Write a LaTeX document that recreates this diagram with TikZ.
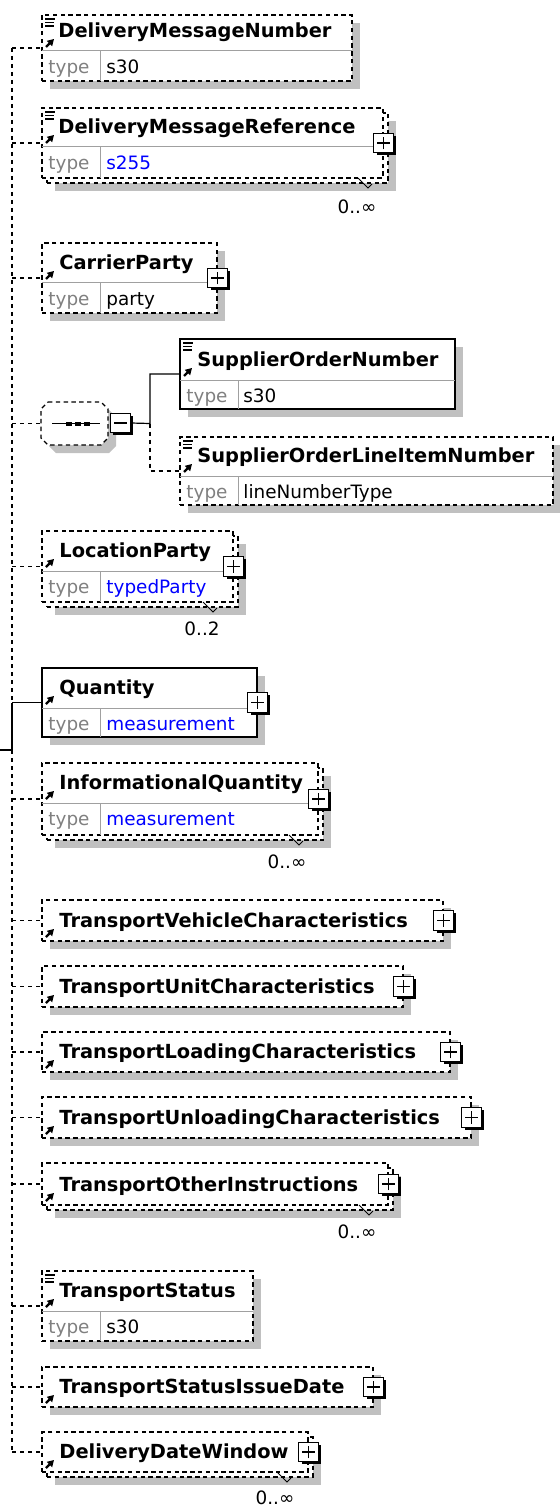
\documentclass[tikz,border=0pt]{standalone}
\usepackage{fontspec}
\setmainfont{DejaVu Sans}
\usepackage{xcolor}
\usepackage{tikz}
\usetikzlibrary{arrows.meta, positioning, fit, shadows}
\definecolor{xsgrey}{HTML}{C0C0C0}
\definecolor{xslabel}{HTML}{808080}
\definecolor{xsrule}{HTML}{A0A0A0}
\definecolor{xsblue}{HTML}{0000FF}
\newcommand{\simpleicon}[2]{\draw[line width=0.55pt] (#1+3,#2+4) -- ++(10,0) (#1+3,#2+7.5) -- ++(9,0) (#1+3,#2+11) -- ++(9,0);}
\tikzset{
  ebox/.style={draw=black, fill=white, line width=0.7pt, inner sep=0pt},
  eshadow/.style={general shadow={fill=xsgrey, shadow xshift=4pt, shadow yshift=-4pt}},
  reqbox/.style={ebox, eshadow},
  optbox/.style={ebox, eshadow, dash pattern=on 2.2pt off 1.7pt},
  optfront/.style={ebox, dash pattern=on 2.2pt off 1.7pt},
  reqline/.style={draw=black, line width=0.6pt},
  optline/.style={reqline, dash pattern=on 2.2pt off 1.8pt},
  rowrule/.style={draw=xsrule, line width=0.5pt},
  ename/.style={font=\fontsize{9.7pt}{11pt}\selectfont\bfseries, anchor=base west, inner sep=0pt},
  tkey/.style={font=\fontsize{9.2pt}{11pt}\selectfont, text=xslabel, anchor=base west, inner sep=0pt},
  tval/.style={font=\fontsize{9.2pt}{11pt}\selectfont, anchor=base west, inner sep=0pt},
  tref/.style={tval, text=xsblue},
  occ/.style={font=\fontsize{9.2pt}{11pt}\selectfont, inner sep=0pt},
  occtick/.style={line width=0.5pt},
  refarrow/.style={line width=1.1pt, -{Triangle[length=3.2pt, width=3.6pt]}},
  togglebox/.style={draw=black, fill=white, line width=0.55pt, minimum size=9.8pt, inner sep=0pt,
    general shadow={fill=black, shadow xshift=1.3pt, shadow yshift=-1.3pt}},
  expand/.style={togglebox, path picture={\draw[line width=0.55pt]
    ([xshift=-3.2pt]path picture bounding box.center) -- ([xshift=3.2pt]path picture bounding box.center)
    ([yshift=-3.2pt]path picture bounding box.center) -- ([yshift=3.2pt]path picture bounding box.center);}},
  collapse/.style={togglebox, path picture={\draw[line width=0.55pt]
    ([xshift=-3.2pt]path picture bounding box.center) -- ([xshift=3.2pt]path picture bounding box.center);}},
  seqbox/.style={inner sep=0pt, minimum width=33.5pt, minimum height=21.5pt}
}
\begin{document}
\begin{tikzpicture}[x=0.5pt, y=-0.5pt]
\useasboundingbox (0,0) rectangle (560,1508);
\coordinate (spine) at (12,0);
\coordinate (root) at (0,750);
\node[optbox, fit={(42,15) (352,81)}] (dmn) {};
\draw[rowrule] (42,51) -- (352,51) (100,51) -- (100,81);
\simpleicon{42}{15}
\draw[refarrow] (46,47) -- (54,39);
\node[ename] (dmn-n) at (58,37.5) {DeliveryMessageNumber};
\node[tkey] (dmn-k) at (48,73.5) {type};
\node[tval] (dmn-v) at (106,73.5) {s30};
\node[optbox, fit={(47,113) (388,183)}] (dmr-b) {};
\node[optfront, fit={(42,108) (383,178)}] (dmr) {};
\draw[rowrule] (42,147) -- (383,147) (100,147) -- (100,178);
\simpleicon{42}{108}
\draw[refarrow] (46,143) -- (54,135);
\node[ename] (dmr-n) at (58,133.5) {DeliveryMessageReference};
\node[tkey] (dmr-k) at (48,169.5) {type};
\node[tref] (dmr-v) at (106,169.5) {s255};
\node[expand] (dmr-x) at (dmr.east) {};
\draw[occtick] (358,178) -- (368,188) -- (372,184);
\node[occ] (dmr-o) at (357,207) {0..∞};
\node[optbox, fit={(42,243) (217,313)}] (cpty) {};
\draw[rowrule] (42,283) -- (217,283) (100,283) -- (100,313);
\draw[refarrow] (46,279) -- (54,271);
\node[ename] (cpty-n) at (59,269.5) {CarrierParty};
\node[tkey] (cpty-k) at (48,305.5) {type};
\node[tval] (cpty-v) at (106,305.5) {party};
\node[expand] (cpty-x) at (cpty.east) {};
\fill[xsgrey, shift={(8,8)}] (48,402) -- (101,402) -- (108,409) -- (108,438) -- (101,445) -- (48,445) -- (41,438) -- (41,409) -- cycle;
\draw[optfront] (48,402) -- (101,402) -- (108,409) -- (108,438) -- (101,445) -- (48,445) -- (41,438) -- (41,409) -- cycle;
\node[seqbox] (seq) at (74.5,423.5) {};
\draw[line width=0.6pt] (52,423.5) -- (100,423.5);
\foreach \x in {68.5,77.5,86.5} \fill (\x-3,421.5) rectangle (\x+3,425.5);
\node[collapse] (seq-x) at (120.5,423) {};
\coordinate (seqj) at (150,423.5);
\node[reqbox, fit={(180,339) (455,409)}] (son) {};
\draw[rowrule] (180,380) -- (455,380) (238,380) -- (238,409);
\simpleicon{180}{339}
\draw[refarrow] (184,376) -- (192,368);
\node[ename] (son-n) at (197,366.5) {SupplierOrderNumber};
\node[tkey] (son-k) at (186,402.5) {type};
\node[tval] (son-v) at (243,402.5) {s30};
\node[optbox, fit={(180,437) (553,505)}] (solin) {};
\draw[rowrule] (180,476) -- (553,476) (238,476) -- (238,505);
\simpleicon{180}{437}
\draw[refarrow] (184,472) -- (192,464);
\node[ename] (solin-n) at (197,462.5) {SupplierOrderLineItemNumber};
\node[tkey] (solin-k) at (186,498.5) {type};
\node[tval] (solin-v) at (243,498.5) {lineNumberType};
\node[optbox, fit={(47,536) (238,607)}] (lpty-b) {};
\node[optfront, fit={(42,531) (233,602)}] (lpty) {};
\draw[rowrule] (42,571) -- (233,571) (100,571) -- (100,602);
\draw[refarrow] (46,567) -- (54,559);
\node[ename] (lpty-n) at (59,557.5) {LocationParty};
\node[tkey] (lpty-k) at (48,593.5) {type};
\node[tref] (lpty-v) at (106,593.5) {typedParty};
\node[expand] (lpty-x) at (lpty.east) {};
\draw[occtick] (203,602) -- (213,612) -- (217,608);
\node[occ] (lpty-o) at (202,629) {0..2};
\node[reqbox, fit={(42,668) (257,737)}] (qty) {};
\draw[rowrule] (42,708) -- (257,708) (100,708) -- (100,737);
\draw[refarrow] (46,704) -- (54,696);
\node[ename] (qty-n) at (59,694.5) {Quantity};
\node[tkey] (qty-k) at (48,730.5) {type};
\node[tref] (qty-v) at (106,730.5) {measurement};
\node[expand] (qty-x) at (qty.east) {};
\node[optbox, fit={(47,768) (323,840)}] (iqty-b) {};
\node[optfront, fit={(42,763) (318,835)}] (iqty) {};
\draw[rowrule] (42,803) -- (318,803) (100,803) -- (100,835);
\draw[refarrow] (46,799) -- (54,791);
\node[ename] (iqty-n) at (59,789.5) {InformationalQuantity};
\node[tkey] (iqty-k) at (48,825.5) {type};
\node[tref] (iqty-v) at (106,825.5) {measurement};
\node[expand] (iqty-x) at (iqty.east) {};
\draw[occtick] (289,835) -- (299,845) -- (303,841);
\node[occ] (iqty-o) at (287,862) {0..∞};
\node[optbox, fit={(42,900) (443,941)}] (tvc) {};
\draw[refarrow] (46,937) -- (54,929);
\node[ename] (tvc-n) at (59,927) {TransportVehicleCharacteristics};
\node[expand] (tvc-x) at (tvc.east) {};
\node[optbox, fit={(42,966) (403,1007)}] (tuc) {};
\draw[refarrow] (46,1003) -- (54,995);
\node[ename] (tuc-n) at (59,993) {TransportUnitCharacteristics};
\node[expand] (tuc-x) at (tuc.east) {};
\node[optbox, fit={(42,1032) (450,1072)}] (tlc) {};
\draw[refarrow] (46,1068) -- (54,1060);
\node[ename] (tlc-n) at (59,1058) {TransportLoadingCharacteristics};
\node[expand] (tlc-x) at (tlc.east) {};
\node[optbox, fit={(42,1097) (471,1138)}] (tulc) {};
\draw[refarrow] (46,1134) -- (54,1126);
\node[ename] (tulc-n) at (59,1124) {TransportUnloadingCharacteristics};
\node[expand] (tulc-x) at (tulc.east) {};
\node[optbox, fit={(47,1168) (393,1210)}] (toi-b) {};
\node[optfront, fit={(42,1163) (388,1205)}] (toi) {};
\draw[refarrow] (46,1201) -- (54,1193);
\node[ename] (toi-n) at (59,1191) {TransportOtherInstructions};
\node[expand] (toi-x) at (toi.east) {};
\draw[occtick] (359,1205) -- (369,1215) -- (373,1211);
\node[occ] (toi-o) at (357,1232) {0..∞};
\node[optbox, fit={(42,1271) (253,1341)}] (tst) {};
\draw[rowrule] (42,1311) -- (253,1311) (100,1311) -- (100,1341);
\simpleicon{42}{1271}
\draw[refarrow] (46,1307) -- (54,1299);
\node[ename] (tst-n) at (59,1297.5) {TransportStatus};
\node[tkey] (tst-k) at (48,1333.5) {type};
\node[tval] (tst-v) at (106,1333.5) {s30};
\node[optbox, fit={(42,1367) (373,1407)}] (tsid) {};
\draw[refarrow] (46,1403) -- (54,1395);
\node[ename] (tsid-n) at (59,1393) {TransportStatusIssueDate};
\node[expand] (tsid-x) at (tsid.east) {};
\node[optbox, fit={(47,1437) (313,1477)}] (ddw-b) {};
\node[optfront, fit={(42,1432) (308,1472)}] (ddw) {};
\draw[refarrow] (46,1468) -- (54,1460);
\node[ename] (ddw-n) at (59,1458) {DeliveryDateWindow};
\node[expand] (ddw-x) at (ddw.east) {};
\draw[occtick] (277,1472) -- (287,1482) -- (291,1478);
\node[occ] (ddw-o) at (275,1497.5) {0..∞};
\draw[optline] (spine |- dmn.west) -- (spine |- qty.west);
\draw[reqline] (spine |- qty.west) -- (spine |- root) -- (root);
\draw[optline] (spine |- root) -- (spine |- ddw.west);
\draw[optline] (spine |- dmn.west) -- (dmn.west);
\draw[optline] (spine |- dmr.west) -- (dmr.west);
\draw[optline] (spine |- cpty.west) -- (cpty.west);
\draw[optline] (spine |- seq.west) -- (seq.west);
\draw[reqline] (seq-x.east) -- (seqj) |- (son.west);
\draw[optline] (seqj) |- (solin.west);
\draw[optline] (spine |- lpty.west) -- (lpty.west);
\draw[reqline] (spine |- qty.west) -- (qty.west);
\draw[optline] (spine |- iqty.west) -- (iqty.west);
\draw[optline] (spine |- tvc.west) -- (tvc.west);
\draw[optline] (spine |- tuc.west) -- (tuc.west);
\draw[optline] (spine |- tlc.west) -- (tlc.west);
\draw[optline] (spine |- tulc.west) -- (tulc.west);
\draw[optline] (spine |- toi.west) -- (toi.west);
\draw[optline] (spine |- tst.west) -- (tst.west);
\draw[optline] (spine |- tsid.west) -- (tsid.west);
\draw[optline] (spine |- ddw.west) -- (ddw.west);
\end{tikzpicture}
\end{document}
